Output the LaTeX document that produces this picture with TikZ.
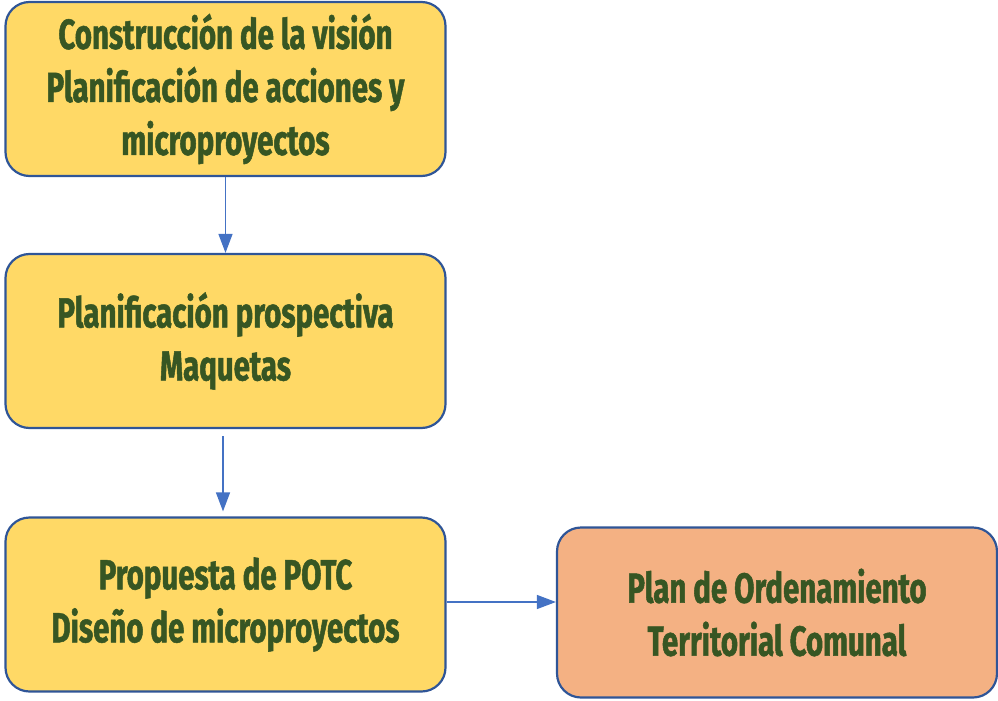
\documentclass[tikz,border=0pt]{standalone}
\usepackage{fontspec}
\newfontfamily\boxfont{Fira Sans}[FakeStretch=0.70, FakeBold=1.2]
\usetikzlibrary{arrows.meta}
\definecolor{fillY}{HTML}{FFD966}
\definecolor{fillO}{HTML}{F4B183}
\definecolor{edgeB}{HTML}{2F5597}
\definecolor{arrB}{HTML}{4472C4}
\definecolor{txtG}{HTML}{375623}
\tikzset{
  box/.style={draw=edgeB, line width=2.2pt, rounded corners=24pt, minimum width=440pt, minimum height=174pt,
    align=center, text=txtG, font=\boxfont\bfseries\fontsize{42}{53}\selectfont, inner sep=0pt},
  ybox/.style={box, fill=fillY},
  obox/.style={box, fill=fillO, minimum height=170pt},
  conn/.style={draw=arrB, line width=1.3pt, -{Triangle[length=19pt,width=14pt]}}
}
\begin{document}
\begin{tikzpicture}[x=1pt,y=-1pt]
\useasboundingbox (0,0) rectangle (998,701);
\node[ybox] (b1) at (225.5,89) {Construcción de la visión\\Planificación de acciones y\\microproyectos};
\node[ybox] (b2) at (225.5,341) {Planificación prospectiva\\Maquetas};
\node[ybox] (b3) at (225.5,604.5) {Propuesta de POTC\\Diseño de microproyectos};
\node[obox] (b4) at (777,612.5) {Plan de Ordenamiento\\Territorial Comunal};
\draw[conn] (b1.south) -- (b2.north);
\draw[conn, shorten <=7pt, shorten >=5pt] ([xshift=-2.5pt]b2.south) -- ([xshift=-2.5pt]b3.north);
\draw[conn] ([yshift=2.5pt]b3.east) -- ([yshift=2.5pt]b3.east -| b4.west);
\end{tikzpicture}
\end{document}
